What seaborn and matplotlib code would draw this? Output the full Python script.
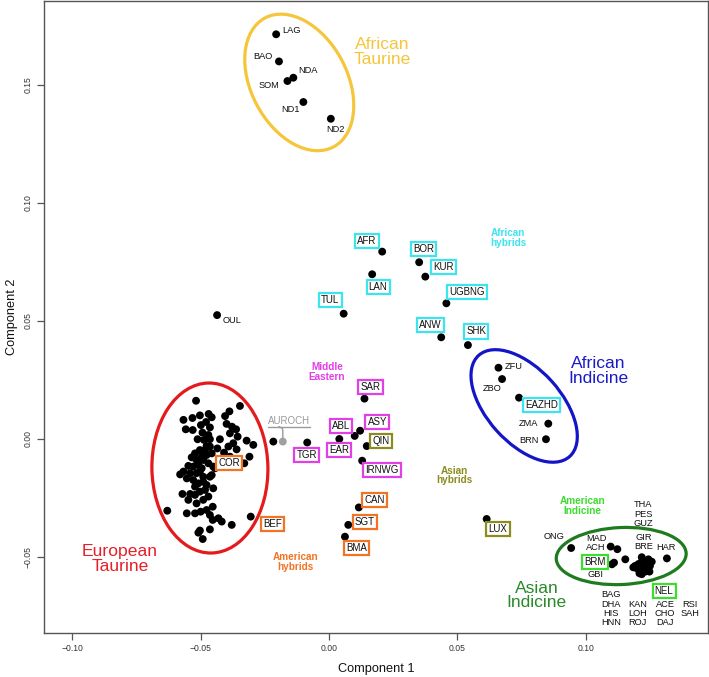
import numpy as np
import pandas as pd
import matplotlib
matplotlib.use("Agg")
import matplotlib.pyplot as plt
import matplotlib.transforms as mtrans
from matplotlib.patches import Ellipse
from matplotlib.lines import Line2D
import seaborn as sns

# ---------------- data ----------------
# European taurine cluster (unlabelled breeds)
eur_x = [-0.0518, -0.0347, -0.0388, -0.0567, -0.0532, -0.0503, -0.0469, -0.0457, -0.0405, -0.0479,
         -0.0499, -0.0464, -0.0558, -0.0531, -0.0399, -0.0378, -0.0362, -0.0386, -0.0493, -0.0470,
         -0.0512, -0.0487, -0.0464, -0.0425, -0.0356, -0.0321, -0.0295, -0.0373, -0.0392, -0.0435,
         -0.0409, -0.0360, -0.0477, -0.0503, -0.0522, -0.0535, -0.0516, -0.0496, -0.0477, -0.0457,
         -0.0509, -0.0529, -0.0548, -0.0496, -0.0470, -0.0451, -0.0310, -0.0386, -0.0567, -0.0580,
         -0.0541, -0.0516, -0.0490, -0.0464, -0.0444, -0.0554, -0.0529, -0.0509, -0.0477, -0.0457,
         -0.0483, -0.0503, -0.0522, -0.0541, -0.0571, -0.0548, -0.0516, -0.0490, -0.0470, -0.0453,
         -0.0477, -0.0500, -0.0522, -0.0554, -0.0630, -0.0464, -0.0431, -0.0418, -0.0379, -0.0453,
         -0.0503, -0.0464, -0.0492, -0.0509, -0.0490, -0.0483, -0.0464, -0.0503, -0.0522, -0.0451,
         -0.0490, -0.0217]
eur_y = [0.0162, 0.0140, 0.0117, 0.0081, 0.0089, 0.0100, 0.0106, 0.0092, 0.0097, 0.0072,
         0.0059, 0.0049, 0.0041, 0.0038, 0.0064, 0.0052, 0.0041, 0.0024, 0.0027, 0.0017,
         -0.0001, -0.0004, -0.0001, -0.0001, 0.0010, -0.0007, -0.0025, -0.0018, -0.0032, -0.0040,
         -0.0058, -0.0044, -0.0030, -0.0047, -0.0061, -0.0078, -0.0089, -0.0075, -0.0068, -0.0061,
         -0.0110, -0.0117, -0.0114, -0.0124, -0.0103, -0.0117, -0.0075, -0.0075, -0.0138, -0.0150,
         -0.0145, -0.0145, -0.0160, -0.0160, -0.0124, -0.0167, -0.0174, -0.0188, -0.0195, -0.0153,
         -0.0216, -0.0223, -0.0237, -0.0233, -0.0233, -0.0258, -0.0273, -0.0258, -0.0244, -0.0287,
         -0.0301, -0.0308, -0.0315, -0.0315, -0.0304, -0.0322, -0.0336, -0.0350, -0.0364, -0.0343,
         -0.0388, -0.0383, -0.0424, -0.0397, -0.0089, -0.0047, -0.0032, -0.0138, -0.0202, -0.0209,
         -0.0181, -0.0011]

# Asian indicine cluster (unlabelled breeds)
asi_x = [0.1218, 0.1244, 0.1257, 0.1192, 0.1205, 0.1224, 0.1238, 0.1212, 0.1250, 0.1218,
         0.1199, 0.1231, 0.1248, 0.1185, 0.1218, 0.1209, 0.1226, 0.1154]
asi_y = [-0.0501, -0.0510, -0.0520, -0.0538, -0.0530, -0.0527, -0.0548, -0.0555, -0.0538, -0.0573,
         -0.0548, -0.0562, -0.0562, -0.0544, -0.0520, -0.0569, -0.0541, -0.0510]

# named breeds
breeds = ["LAG", "BAO", "NDA", "SOM", "ND1", "ND2", "OUL", "AFR", "BOR", "KUR", "LAN", "UGBNG",
          "TUL", "ANW", "SHK", "ZFU", "ZBO", "EAZHD", "ZMA", "BRN", "SAR", "ASY", "ABL", "EAR",
          "QIN", "IRNWG", "TGR", "CAN", "SGT", "BMA", "BEF", "COR", "LUX", "ONG", "MAD", "ACH",
          "BRM", "GBI", "HAR", "AUROCH"]
breed_x = [-0.0206, -0.0195, -0.0139, -0.0162, -0.0100, 0.0007, -0.0436, 0.0207, 0.0351, 0.0375,
           0.0168, 0.0457, 0.0057, 0.0437, 0.0541, 0.0660, 0.0674, 0.0740, 0.0854, 0.0845,
           0.0138, 0.0121, 0.0100, 0.0040, 0.0147, 0.0129, -0.0085, 0.0116, 0.0075, 0.0062,
           -0.0305, -0.0330, 0.0614, 0.0943, 0.1097, 0.1123, 0.1110, 0.1102, 0.1316, -0.0180]
breed_y = [0.1715, 0.1600, 0.1531, 0.1517, 0.1428, 0.1357, 0.0525, 0.0794, 0.0749, 0.0688,
           0.0698, 0.0575, 0.0531, 0.0431, 0.0398, 0.0302, 0.0254, 0.0175, 0.0065, -0.0001,
           0.0171, 0.0035, 0.0013, 0.0000, -0.0030, -0.0092, -0.0015, -0.0290, -0.0364, -0.0414,
           -0.0329, -0.0103, -0.0339, -0.0462, -0.0456, -0.0467, -0.0524, -0.0531, -0.0506, -0.0011]

x_ticks = [-0.10, -0.05, 0.00, 0.05, 0.10]
y_ticks = [-0.05, 0.00, 0.05, 0.10, 0.15]

# ---------------- layout / style ----------------
C_CYAN, C_MAG, C_ORANGE, C_OLIVE, C_LGREEN = "#3CE4EE", "#E23FE6", "#F07424", "#8C8C1E", "#3BDD2E"

# plain text labels (data-coordinate anchors)
plain_labels = {
    "LAG": (-0.0145, 0.1730), "BAO": (-0.0258, 0.1620), "NDA": (-0.0083, 0.1561),
    "SOM": (-0.0233, 0.1497), "ND1": (-0.0152, 0.1397), "ND2": (0.0025, 0.1312),
    "OUL": (-0.0378, 0.0500), "ZFU": (0.0718, 0.0308), "ZBO": (0.0634, 0.0215),
    "ZMA": (0.0778, 0.0067), "BRN": (0.0778, -0.0006), "ONG": (0.0878, -0.0412),
    "THA\nPES\nGUZ": (0.1224, -0.0318), "GIR\nBRE": (0.1224, -0.0436), "HAR": (0.1313, -0.0461),
    "MAD\nACH": (0.1040, -0.0439), "GBI": (0.1036, -0.0575),
    "BAG\nDHA\nHIS\nHNN": (0.1099, -0.0719), "KAN\nLOH\nROJ": (0.1201, -0.0739),
    "ACE\nCHO\nDAJ": (0.1309, -0.0739), "RSI\nSAH": (0.1406, -0.0719),
}
boxed_labels = {
    "AFR": ((0.0147, 0.0840), C_CYAN), "BOR": ((0.0367, 0.0804), C_CYAN),
    "KUR": ((0.0445, 0.0730), C_CYAN), "LAN": ((0.0191, 0.0644), C_CYAN),
    "UGBNG": ((0.0536, 0.0624), C_CYAN), "TUL": ((0.0005, 0.0588), C_CYAN),
    "ANW": ((0.0396, 0.0484), C_CYAN), "SHK": ((0.0573, 0.0456), C_CYAN),
    "EAZHD": ((0.0829, 0.0145), C_CYAN),
    "SAR": ((0.0162, 0.0219), C_MAG), "ABL": ((0.0047, 0.0055), C_MAG),
    "ASY": ((0.0188, 0.0073), C_MAG), "EAR": ((0.0040, -0.0047), C_MAG),
    "IRNWG": ((0.0206, -0.0131), C_MAG), "TGR": ((-0.0087, -0.0068), C_MAG),
    "QIN": ((0.0203, -0.0007), C_OLIVE), "LUX": ((0.0658, -0.0381), C_OLIVE),
    "COR": ((-0.0388, -0.0103), C_ORANGE), "BEF": ((-0.0220, -0.0360), C_ORANGE),
    "CAN": ((0.0176, -0.0258), C_ORANGE), "SGT": ((0.0140, -0.0353), C_ORANGE),
    "BMA": ((0.0106, -0.0461), C_ORANGE),
    "BRM": ((0.1036, -0.0520), C_LGREEN), "NEL": ((0.1305, -0.0644), C_LGREEN),
}
# group labels: text, anchor, colour, size, bold
group_labels = [
    ("African\nTaurine", (0.0208, 0.1640), "#F5C53A", 12.6, False),
    ("African\nIndicine", (0.1048, 0.0287), "#1B1BC8", 12.6, False),
    ("European\nTaurine", (-0.0814, -0.0507), "#E5202A", 12.6, False),
    ("Asian\nIndicine", (0.0809, -0.0663), "#2A8A2A", 12.6, False),
    ("African\nhybrids", (0.0698, 0.0852), C_CYAN, 7.2, True),
    ("Middle\nEastern", (-0.0008, 0.0283), C_MAG, 7.2, True),
    ("Asian\nhybrids", (0.0487, -0.0155), C_OLIVE, 7.2, True),
    ("American\nhybrids", (-0.0131, -0.0521), C_ORANGE, 7.2, True),
    ("American\nIndicine", (0.0988, -0.0285), C_LGREEN, 7.2, True),
]
# ellipses: centre (data), semi-axes (px), angle (deg), colour
ellipses = [
    ((-0.0116, 0.1511), 73, 48, -62, "#F5C53A"),
    ((-0.0464, -0.0123), 85, 58, 91, "#E41A1C"),
    ((0.0760, 0.0140), 68, 37, -48, "#1515C8"),
    ((0.1138, -0.0496), 65, 28.5, 2.5, "#1E7B1E"),
]

sns.set_theme(style="white")
plt.rcParams["font.family"] = ["Liberation Sans", "DejaVu Sans"]

fig = plt.figure(figsize=(7.09, 6.77), dpi=100)
ax = fig.add_axes([0.0625, 0.0654, 0.9357, 0.9331])

df = pd.concat([
    pd.DataFrame({"pc1": eur_x, "pc2": eur_y, "kind": "sample"}),
    pd.DataFrame({"pc1": asi_x, "pc2": asi_y, "kind": "sample"}),
    pd.DataFrame({"pc1": breed_x, "pc2": breed_y,
                  "kind": ["aurochs" if b == "AUROCH" else "sample" for b in breeds]}),
], ignore_index=True)

sns.scatterplot(data=df, x="pc1", y="pc2", hue="kind",
                palette={"sample": "black", "aurochs": "#A0A0A0"},
                s=32, linewidth=0, legend=False, ax=ax, zorder=3)

ax.set_xlim(-0.1109, 0.1475)
ax.set_ylim(-0.0821, 0.1856)

# ellipses in pixel units centred on data points
for (cx, cy), a, b, ang, col in ellipses:
    tr = fig.dpi_scale_trans + mtrans.ScaledTranslation(cx, cy, ax.transData)
    ax.add_patch(Ellipse((0, 0), 2 * a / fig.dpi, 2 * b / fig.dpi, angle=ang,
                         transform=tr, fill=False, ec=col, lw=2.3, zorder=2))

for txt, (lx, ly) in plain_labels.items():
    ax.text(lx, ly, txt, ha="center", va="center", fontsize=6.7, color="#111111",
            linespacing=1.02, zorder=4)

for txt, ((lx, ly), col) in boxed_labels.items():
    ax.text(lx, ly, txt, ha="center", va="center", fontsize=7.0, color="#111111", zorder=5,
            bbox=dict(boxstyle="square,pad=0.22", fc="white", ec=col, lw=1.6))

for txt, (lx, ly), col, fs, bold in group_labels:
    ax.text(lx, ly, txt, ha="center", va="center", fontsize=fs, color=col,
            fontweight="bold" if bold else "normal", linespacing=0.98, zorder=4)

# AUROCH label with underline and connector
ia = breeds.index("AUROCH")
aur = ax.text(-0.0155, 0.0076, "AUROCH", ha="center", va="center", fontsize=7.0,
              color="#9A9A9A", zorder=4)
ax.annotate("", xy=(breed_x[ia], breed_y[ia]), xytext=(-2.5, 10.5), textcoords="offset points",
            arrowprops=dict(arrowstyle="-", color="#9A9A9A", lw=1.0, shrinkA=0, shrinkB=2.5,
                            connectionstyle="angle,angleA=0,angleB=90,rad=4"))

# axes styling (R-like box)
for sp in ax.spines.values():
    sp.set_visible(True)
    sp.set_color("#555555")
    sp.set_linewidth(1.0)
ax.set_xticks(x_ticks)
ax.set_yticks(y_ticks)
fmt = lambda v: f"{v:.2f}".replace("-", "\u2212")
ax.set_xticklabels([fmt(v) for v in x_ticks])
ax.set_yticklabels([fmt(v) for v in y_ticks])
ax.tick_params(axis="both", direction="out", length=4.8, width=0.9, color="#555555",
               labelsize=6.2, labelcolor="#333333", pad=3.5)
ax.tick_params(axis="x", bottom=True)
ax.tick_params(axis="y", left=True)
for t in ax.get_yticklabels():
    t.set_rotation(90)
    t.set_va("center")
ax.set_xlabel("Component 1", fontsize=9.2, color="#111111", labelpad=7)
ax.set_ylabel("Component 2", fontsize=9.2, color="#111111", labelpad=4)
ax.grid(False)

fig.canvas.draw()
bb = aur.get_window_extent()
ax.add_line(Line2D([bb.x0, bb.x1], [bb.y0 - 1.0, bb.y0 - 1.0], transform=mtrans.IdentityTransform(),
                   color="#9A9A9A", lw=1.0, zorder=4))

fig.savefig("out.png", dpi=100)
